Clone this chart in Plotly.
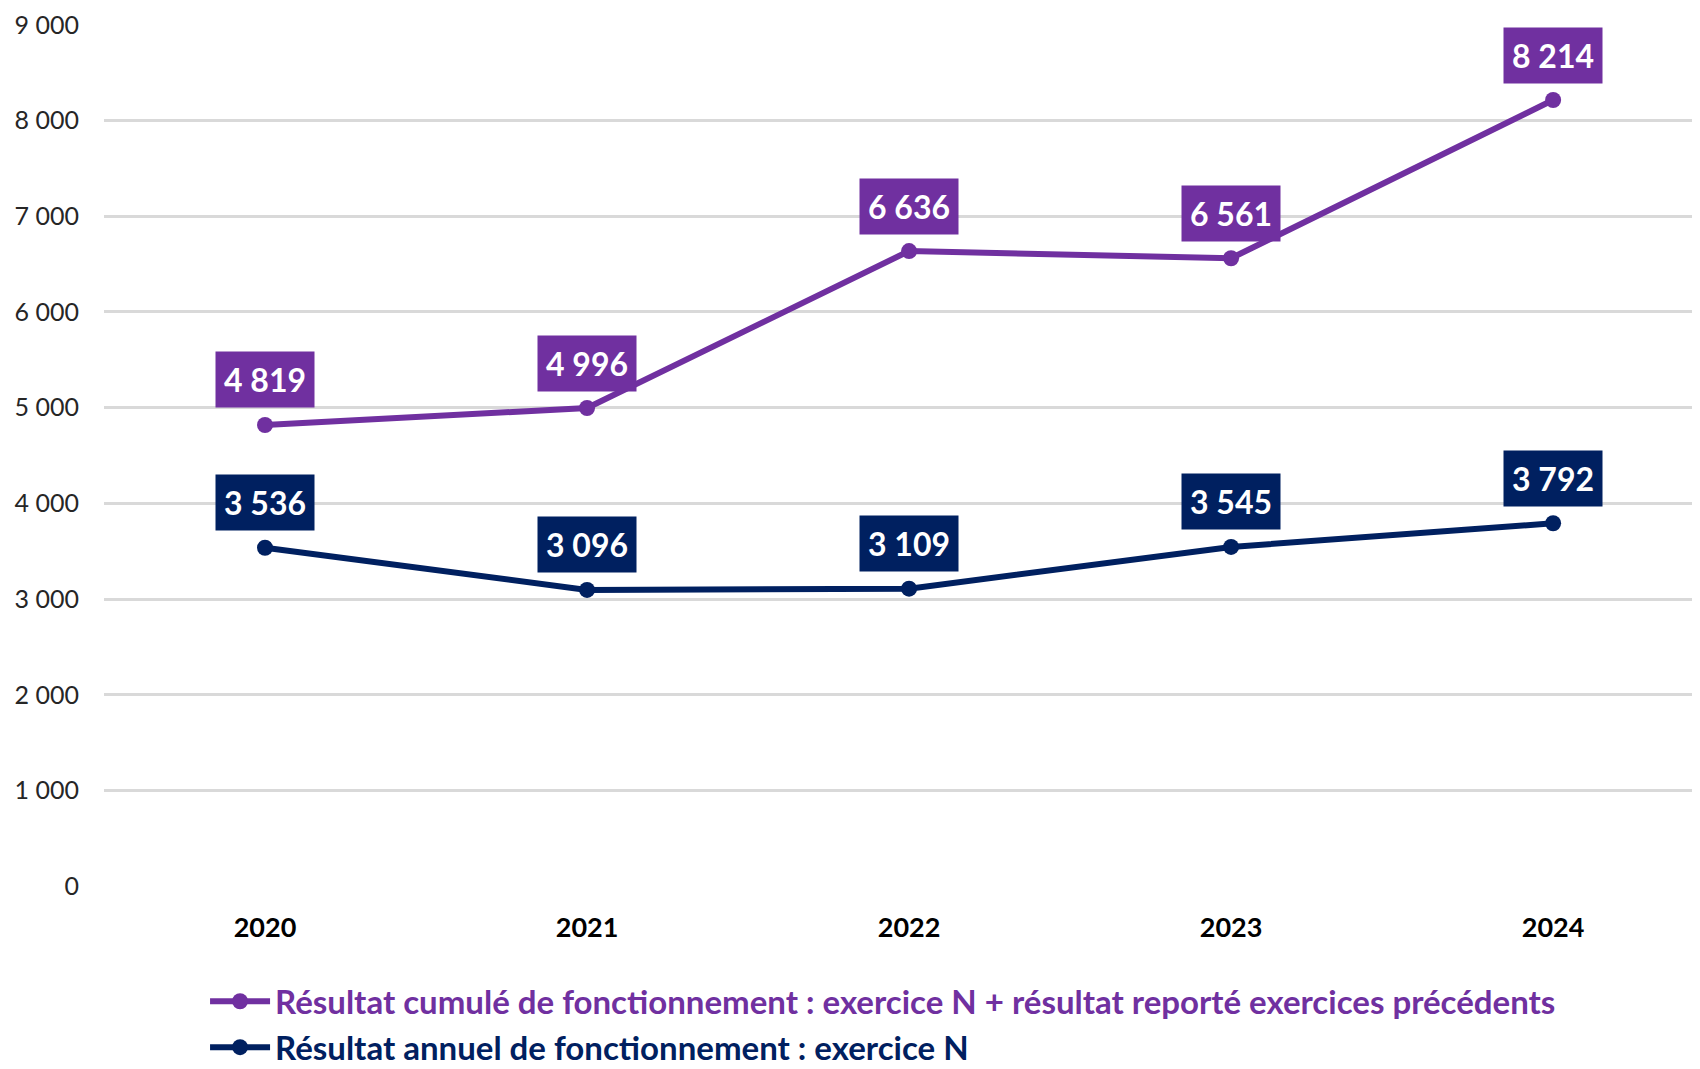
import plotly.graph_objects as go

years = ["2020", "2021", "2022", "2023", "2024"]
cumul = [4819, 4996, 6636, 6561, 8214]
annuel = [3536, 3096, 3109, 3545, 3792]
y_ticks = [0, 1000, 2000, 3000, 4000, 5000, 6000, 7000, 8000, 9000]

name_cumul = "Résultat cumulé de fonctionnement : exercice N + résultat reporté exercices précédents"
name_annuel = "Résultat annuel de fonctionnement : exercice N"

purple = "#7030A0"
navy = "#002060"
font = "Lato"


def fmt(v):
    return f"{v:,}".replace(",", " ")


fig = go.Figure()
for name, vals, col in [(name_cumul, cumul, purple), (name_annuel, annuel, navy)]:
    fig.add_trace(go.Scatter(
        x=years, y=vals, mode="lines+markers",
        name=f'<span style="color:{col}">{name}</span>',
        line=dict(color=col, width=6),
        marker=dict(color=col, size=16),
    ))
    # data labels: index position on the category axis
    for i, v in enumerate(vals):
        fig.add_annotation(
            x=i, y=v, xref="x", yref="y", text=fmt(v), showarrow=False,
            yshift=45, bgcolor=col, borderpad=8,
            font=dict(family=font, size=32, color="white", weight="bold"),
        )

fig.update_layout(
    width=1700, height=1069,
    margin=dict(l=96, r=0, t=16, b=190),
    paper_bgcolor="white", plot_bgcolor="white",
    separators=", ",
    font=dict(family=font),
    showlegend=True,
    legend=dict(
        x=0.063, y=-0.1, xanchor="left", yanchor="top",
        orientation="v", tracegroupgap=0, itemwidth=60,
        font=dict(family=font, size=33, weight="bold", color=purple),
        bgcolor="rgba(0,0,0,0)",
    ),
    xaxis=dict(
        type="category", range=[-0.5, 4.481],
        showgrid=False, showline=False, zeroline=False,
        ticks="", ticklabelstandoff=22,
        tickfont=dict(family=font, size=27, color="#000000", weight="bold"),
    ),
    yaxis=dict(
        range=[-8, 9008], tickvals=y_ticks, tickformat=",d",
        showgrid=True, gridcolor="#D9D9D9", gridwidth=2.5,
        zeroline=False, showline=False, ticks="",
        ticklabelstandoff=24,
        tickfont=dict(family=font, size=25, color="#262626"),
    ),
)

fig.write_html("out.html")
